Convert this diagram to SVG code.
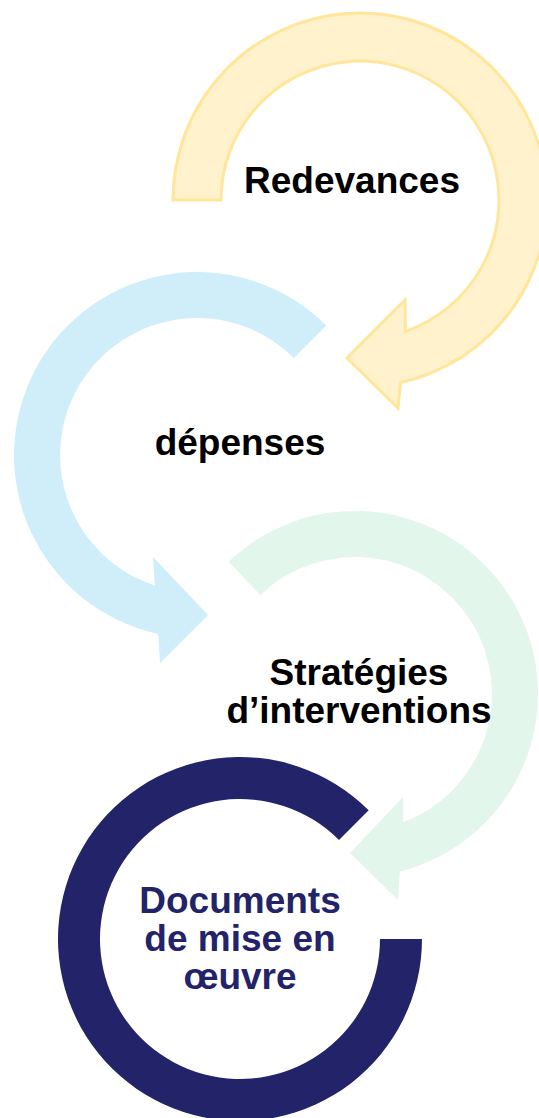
<svg xmlns="http://www.w3.org/2000/svg" width="539" height="1118" viewBox="0 0 539 1118">
<style>
.lbl{font-family:"Liberation Sans",Arial,sans-serif;font-weight:bold;font-size:37px;text-anchor:middle;fill:#000}
.navy{fill:#23236A}
</style>
<rect width="539" height="1118" fill="#fff"/>
<g id="connectors">
<path id="arrow-yellow" d="M 173 200 A 187 187 0 1 1 400.5 382.6 L 398 408 L 347 358 L 405 300 L 405.5 331.4 A 139 139 0 1 0 221 200 Z" fill="#FFF2CC" stroke="#FFE699" stroke-width="3" stroke-linejoin="miter"/>
<path id="arrow-blue" d="M 326.4 325.6 A 183 183 0 1 0 158.3 633.9 L 160 663 L 208 615 L 153 557 L 154.9 585.4 A 137 137 0 1 1 293.9 358.1 Z" fill="#CFEEFA"/>
<path id="arrow-green" d="M 228.6 561.7 A 183 183 0 1 1 399.9 871.4 L 398 900 L 350 853 L 403 797 L 403.2 822.2 A 137 137 0 1 0 260.3 594.9 Z" fill="#E3F6EC"/>
<path id="ring-navy" d="M 368.7 810.3 A 182 182 0 1 0 422 939 L 380 939 A 140 140 0 1 1 339 840 Z" fill="#23236A"/>
</g>
<g id="node-redevances"><text class="lbl" x="352" y="193">Redevances</text></g>
<g id="node-depenses"><text class="lbl" x="240" y="455">dépenses</text></g>
<g id="node-strategies"><text class="lbl" x="359" y="685">Stratégies</text><text class="lbl" x="359" y="723">d’interventions</text></g>
<g id="node-documents"><text class="lbl navy" x="240" y="913">Documents</text><text class="lbl navy" x="240" y="951">de mise en</text><text class="lbl navy" x="240" y="989">œuvre</text></g>
</svg>
